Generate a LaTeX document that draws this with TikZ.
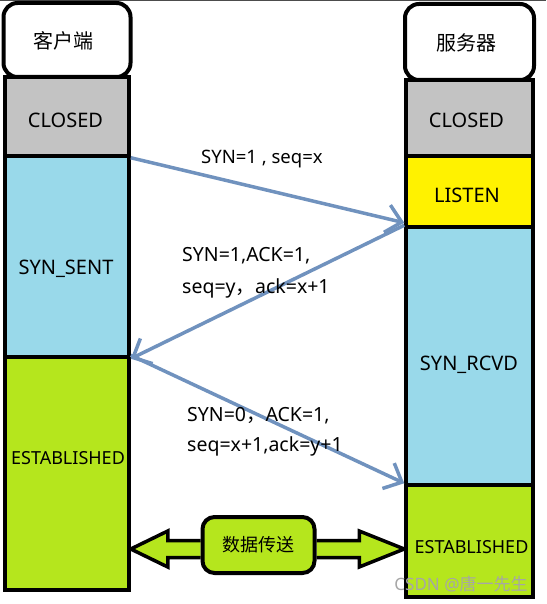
\documentclass[tikz,border=0pt]{standalone}
\usepackage{fontspec}
\setmainfont{Noto Sans}
\newfontfamily\cjk{Noto Sans CJK SC}
\usetikzlibrary{arrows.meta, calc, backgrounds}
\definecolor{closedgray}{HTML}{C3C3C3}
\definecolor{skyblue}{HTML}{99D9EA}
\definecolor{listenyellow}{HTML}{FFF200}
\definecolor{estgreen}{HTML}{B5E61D}
\definecolor{msgblue}{HTML}{7092BE}
\definecolor{markgray}{HTML}{A6A6A6}

\begin{document}
\begin{tikzpicture}[x=1pt,y=-1pt]
\tikzstyle{every node}+=[inner sep=0pt]
\tikzstyle{stat}=[draw=black, line width=3.5pt, rectangle]
\tikzstyle{head}=[draw=black, line width=4pt, rounded corners=14pt, fill=white]
\tikzstyle{txt}=[font=\fontsize{20}{24}\selectfont, text height=14.3pt, text depth=0pt]
\tikzstyle{smalltxt}=[font=\fontsize{18}{22}\selectfont, text height=12.9pt, text depth=0pt]
\tikzstyle{cjktxt}=[font=\cjk\fontsize{20}{24}\selectfont]
\tikzstyle{msg}=[draw=msgblue, line width=3.5pt, -{Straight Barb[length=15pt,width=28pt]}]
\tikzstyle{lbl}=[anchor=west, font=\fontsize{19.5}{22}\selectfont, text height=13.9pt, text depth=0pt]
\tikzstyle{flow}=[draw=black, line width=3.5pt, fill=estgreen, line join=miter]
\useasboundingbox (0,0) rectangle (546,604);
\draw [black!70, line width=1.5pt] (0,0.75) -- (546,0.75);

% client
\node [stat, fill=closedgray, minimum width=124pt, minimum height=79pt] (cclosed) at (67,116.5) {};
\node [stat, fill=skyblue, minimum width=124pt, minimum height=201pt] (csent) at (67,256.5) {};
\node [stat, fill=estgreen, minimum width=124pt, minimum height=233pt] (cest) at (67,473.5) {};
\node [head, minimum width=127pt, minimum height=74pt] (cli) at (67,40) {};
\node [cjktxt] (clit) at (63,41) {客户端};
\node [txt] (cclosedt) at (65.5,120) {CLOSED};
\node [txt] (csentt) at (66,267) {SYN\_SENT};
\node [smalltxt] (cestt) at (68,458) {ESTABLISHED};

% server
\node [stat, fill=closedgray, minimum width=127pt, minimum height=76pt] (sclosed) at (469.5,118) {};
\node [stat, fill=listenyellow, minimum width=127pt, minimum height=71pt] (slisten) at (469.5,191.5) {};
\node [stat, fill=skyblue, minimum width=127pt, minimum height=258pt] (srcvd) at (469.5,356) {};
\node [stat, fill=estgreen, minimum width=127pt, minimum height=112pt] (sest) at (469.5,541) {};
\node [head, minimum width=129pt, minimum height=76pt] (srv) at (469.5,42) {};
\node [cjktxt] (srvt) at (466,43) {服务器};
\node [txt] (sclosedt) at (466.5,120) {CLOSED};
\node [txt] (slistent) at (467,195) {LISTEN};
\node [txt] (srcvdt) at (469,363) {SYN\_RCVD};
\node [smalltxt] (sestt) at (471.5,547) {ESTABLISHED};

% handshake
\draw [msg] (cclosed.south east) -- ([yshift=6pt]slisten.south west);
\draw [msg] (srcvd.north west) -- (csent.south east);
\draw [msg] (cest.north east) -- (sest.north west);
\node [lbl, font=\fontsize{18.5}{22}\selectfont] (syn) at (201,157) {SYN=1 , seq=x};
\node [lbl] (synack) at (182,255) {SYN=1,ACK=1,};
\node [lbl] (synackb) at (182,287) {seq=y{\cjk ，}ack=x+1};
\node [lbl] (ack) at (187,415) {SYN=0{\cjk ，}ACK=1,};
\node [lbl] (ackb) at (187,445) {seq=x+1,ack=y+1};

% data transfer
\coordinate (xmid) at (258.5,549);
\node [head, fill=estgreen, minimum width=112pt, minimum height=56pt, rounded corners=12pt, font=\cjk\fontsize{18}{22}\selectfont] (xfer) at (258.5,545) {数据传送};
\coordinate (lt) at (cest.east |- xmid);
\coordinate (rt) at (sest.west |- xmid);
\begin{scope}[on background layer]
\filldraw [flow] ($(xfer.west |- xmid)+(0,-8.5)$) -- ($(lt)+(37,-8.5)$) -- ($(lt)+(37,-18)$) -- (lt) -- ($(lt)+(37,18)$) -- ($(lt)+(37,8.5)$) -- ($(xfer.west |- xmid)+(0,8.5)$);
\filldraw [flow] ($(xfer.east |- xmid)+(0,-8.5)$) -- ($(rt)+(-45,-8.5)$) -- ($(rt)+(-45,-18)$) -- (rt) -- ($(rt)+(-45,18)$) -- ($(rt)+(-45,8.5)$) -- ($(xfer.east |- xmid)+(0,8.5)$);
\end{scope}

\node [font=\fontsize{17}{19}\selectfont, text=markgray] (mark) at (461,584) {CSDN @{\cjk 唐一先生}};
\end{tikzpicture}
\end{document}
